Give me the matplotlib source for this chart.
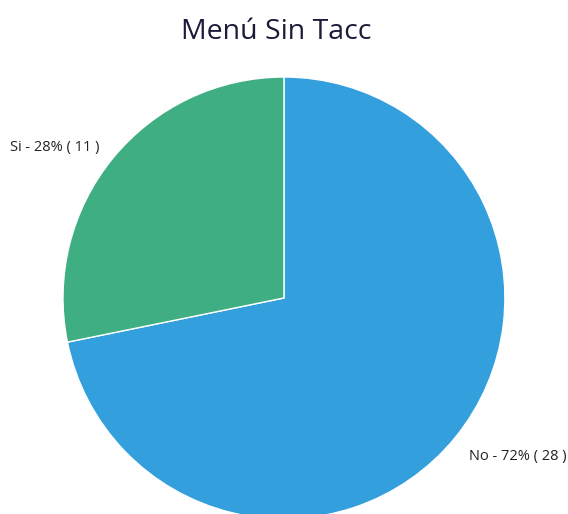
import matplotlib.pyplot as plt

# ---   DATA   --- #
CATEGORIES = ['No', 'Si']
COUNTS = [28, 11]
COLORS = ['#349fdd', '#40ae83']
TITLE = 'Menú Sin Tacc'


def make_labels(names, counts):
    total = sum(counts)
    return [f'{n} - {round(100 * c / total)}% ( {c} )'
            for n, c in zip(names, counts)]


if __name__ == '__main__':
    fig = plt.figure(figsize=(5.68, 5.14), dpi=100)
    # Pie axes, slightly cut off at the bottom edge
    ax = fig.add_axes([0.1109, -0.0097, 0.778, 0.86])
    wedges, texts = ax.pie(
        COUNTS, labels=make_labels(CATEGORIES, COUNTS), colors=COLORS,
        startangle=90, counterclock=False, labeldistance=1.08,
        wedgeprops={'edgecolor': 'white', 'linewidth': 1.0},
        textprops={'fontsize': 10.5, 'color': '#222222',
                   'family': ['Open Sans', 'DejaVu Sans']},
    )
    ax.set_xlim(-1, 1)
    ax.set_ylim(-1, 1)
    ax.set_aspect('equal')
    texts[0].set_va('top')
    texts[1].set_va('center')
    fig.text(0.486, 0.937, TITLE, ha='center', va='center', fontsize=20.5,
             color='#1b1a3a', family=['Open Sans', 'DejaVu Sans'])
    fig.savefig('out.png', dpi=100, facecolor='white')
